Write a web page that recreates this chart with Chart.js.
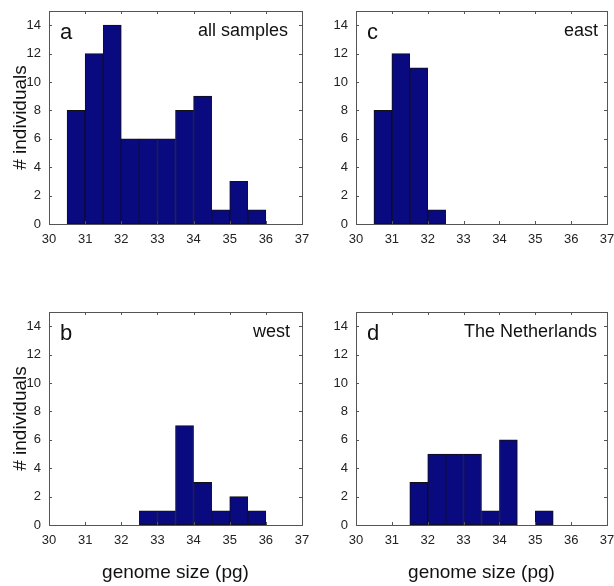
<!DOCTYPE html>
<html>
<head>
<meta charset="utf-8">
<script src="https://cdn.jsdelivr.net/npm/chart.js@4/dist/chart.umd.min.js"></script>
<style>
  html, body { margin: 0; padding: 0; background: #fff; }
  #wrap { position: relative; width: 614px; height: 586px; overflow: hidden; }
  #wrap canvas { position: absolute; }
</style>
</head>
<body>
<div id="wrap">
  <canvas id="panelA" width="322" height="293" style="left:0;top:0"></canvas>
  <canvas id="panelC" width="307" height="293" style="left:307px;top:0"></canvas>
  <canvas id="panelB" width="322" height="293" style="left:0;top:293px"></canvas>
  <canvas id="panelD" width="307" height="293" style="left:307px;top:293px"></canvas>
</div>
<script>
// histogram bins, 0.5 pg wide
const binCenters = [30.75, 31.25, 31.75, 32.25, 32.75, 33.25, 33.75, 34.25, 34.75, 35.25, 35.75];
const allSamples = [8, 12, 14, 6, 6, 6, 8, 9, 1, 3, 1];
const east = [8, 12, 11, 1, 0, 0, 0, 0, 0, 0, 0];
const west = [0, 0, 0, 0, 1, 1, 7, 3, 1, 2, 1];
const netherlands = [0, 0, 3, 5, 5, 5, 1, 6, 0, 1, 0];

const xTicks = [30, 31, 32, 33, 34, 35, 36, 37];
const yTicks = [0, 2, 4, 6, 8, 10, 12, 14];
const xRange = [30, 37];
const yRange = [0, 15];

const FONT = 'Arial, "Liberation Sans", Helvetica, sans-serif';
const BAR_FILL = '#0a0a80';

// box round the plot, inward tick marks, panel letter and label
const framePlugin = {
  id: 'frame',
  afterDraw(chart, args, opts) {
    const {ctx, chartArea: a, scales: {x, y}} = chart;
    ctx.save();
    ctx.strokeStyle = '#555';
    ctx.lineWidth = 1;
    ctx.strokeRect(Math.round(a.left) + 0.5, Math.round(a.top) + 0.5,
                   Math.round(a.right - a.left), Math.round(a.bottom - a.top));
    ctx.beginPath();
    xTicks.forEach(v => {
      const px = Math.round(x.getPixelForValue(v)) + 0.5;
      ctx.moveTo(px, a.bottom); ctx.lineTo(px, a.bottom - 3);
      ctx.moveTo(px, a.top); ctx.lineTo(px, a.top + 3);
    });
    yTicks.forEach(v => {
      const py = Math.round(y.getPixelForValue(v)) + 0.5;
      ctx.moveTo(a.left, py); ctx.lineTo(a.left + 3, py);
      ctx.moveTo(a.right, py); ctx.lineTo(a.right - 3, py);
    });
    ctx.stroke();

    ctx.fillStyle = '#111';
    ctx.textBaseline = 'alphabetic';
    ctx.font = '22px ' + FONT;
    ctx.textAlign = 'left';
    ctx.fillText(opts.letter, a.left + 11, a.top + 28);
    ctx.font = '18px ' + FONT;
    ctx.textAlign = 'right';
    ctx.fillText(opts.label, a.right - opts.labelInset, a.top + 25);
    ctx.restore();
  }
};

function makePanel(id, counts, letter, label, cfg) {
  const ctx = document.getElementById(id).getContext('2d');
  return new Chart(ctx, {
    type: 'bar',
    data: {
      datasets: [{
        data: counts.map((c, i) => ({x: binCenters[i], y: c || null})),
        backgroundColor: BAR_FILL,
        borderColor: '#111',
        borderWidth: 1,
        borderSkipped: false,
        barPercentage: 1,
        categoryPercentage: 1
      }]
    },
    options: {
      responsive: false,
      animation: false,
      layout: { padding: { top: cfg.top, right: cfg.right, left: 0, bottom: 0 } },
      plugins: {
        legend: { display: false },
        tooltip: { enabled: false },
        frame: { letter, label, labelInset: cfg.labelInset }
      },
      scales: {
        x: {
          type: 'linear', offset: false, min: xRange[0], max: xRange[1],
          grid: { display: false, offset: false, drawTicks: false },
          border: { display: false },
          afterBuildTicks: s => { s.ticks = xTicks.map(v => ({value: v})); },
          afterFit: s => { s.height = cfg.xHeight; s.paddingLeft = 0; s.paddingRight = 0; },
          ticks: { padding: 8, color: '#222', font: { family: FONT, size: 13 }, maxRotation: 0 },
          title: {
            display: cfg.xTitle, text: 'genome size (pg)', color: '#111',
            font: { family: FONT, size: 19 }, padding: { top: 0, bottom: 2 }
          }
        },
        y: {
          min: yRange[0], max: yRange[1],
          grid: { display: false, drawTicks: false },
          border: { display: false },
          afterBuildTicks: s => { s.ticks = yTicks.map(v => ({value: v})); },
          afterFit: s => { s.width = 49; s.paddingTop = 0; s.paddingBottom = 0; },
          ticks: { padding: 8, color: '#222', font: { family: FONT, size: 13 } },
          title: {
            display: cfg.yTitle, text: '# individuals', color: '#111',
            font: { family: FONT, size: 19 }, padding: { top: 9, bottom: 0 }
          }
        }
      }
    },
    plugins: [framePlugin]
  });
}

makePanel('panelA', allSamples, 'a', 'all samples', { top: 11, right: 20, xHeight: 69, xTitle: false, yTitle: true, labelInset: 14 });
makePanel('panelC', east, 'c', 'east', { top: 11, right: 7, xHeight: 69, xTitle: false, yTitle: false, labelInset: 9 });
makePanel('panelB', west, 'b', 'west', { top: 19, right: 20, xHeight: 61, xTitle: true, yTitle: true, labelInset: 12 });
makePanel('panelD', netherlands, 'd', 'The Netherlands', { top: 19, right: 7, xHeight: 61, xTitle: true, yTitle: false, labelInset: 10 });
</script>
</body>
</html>
